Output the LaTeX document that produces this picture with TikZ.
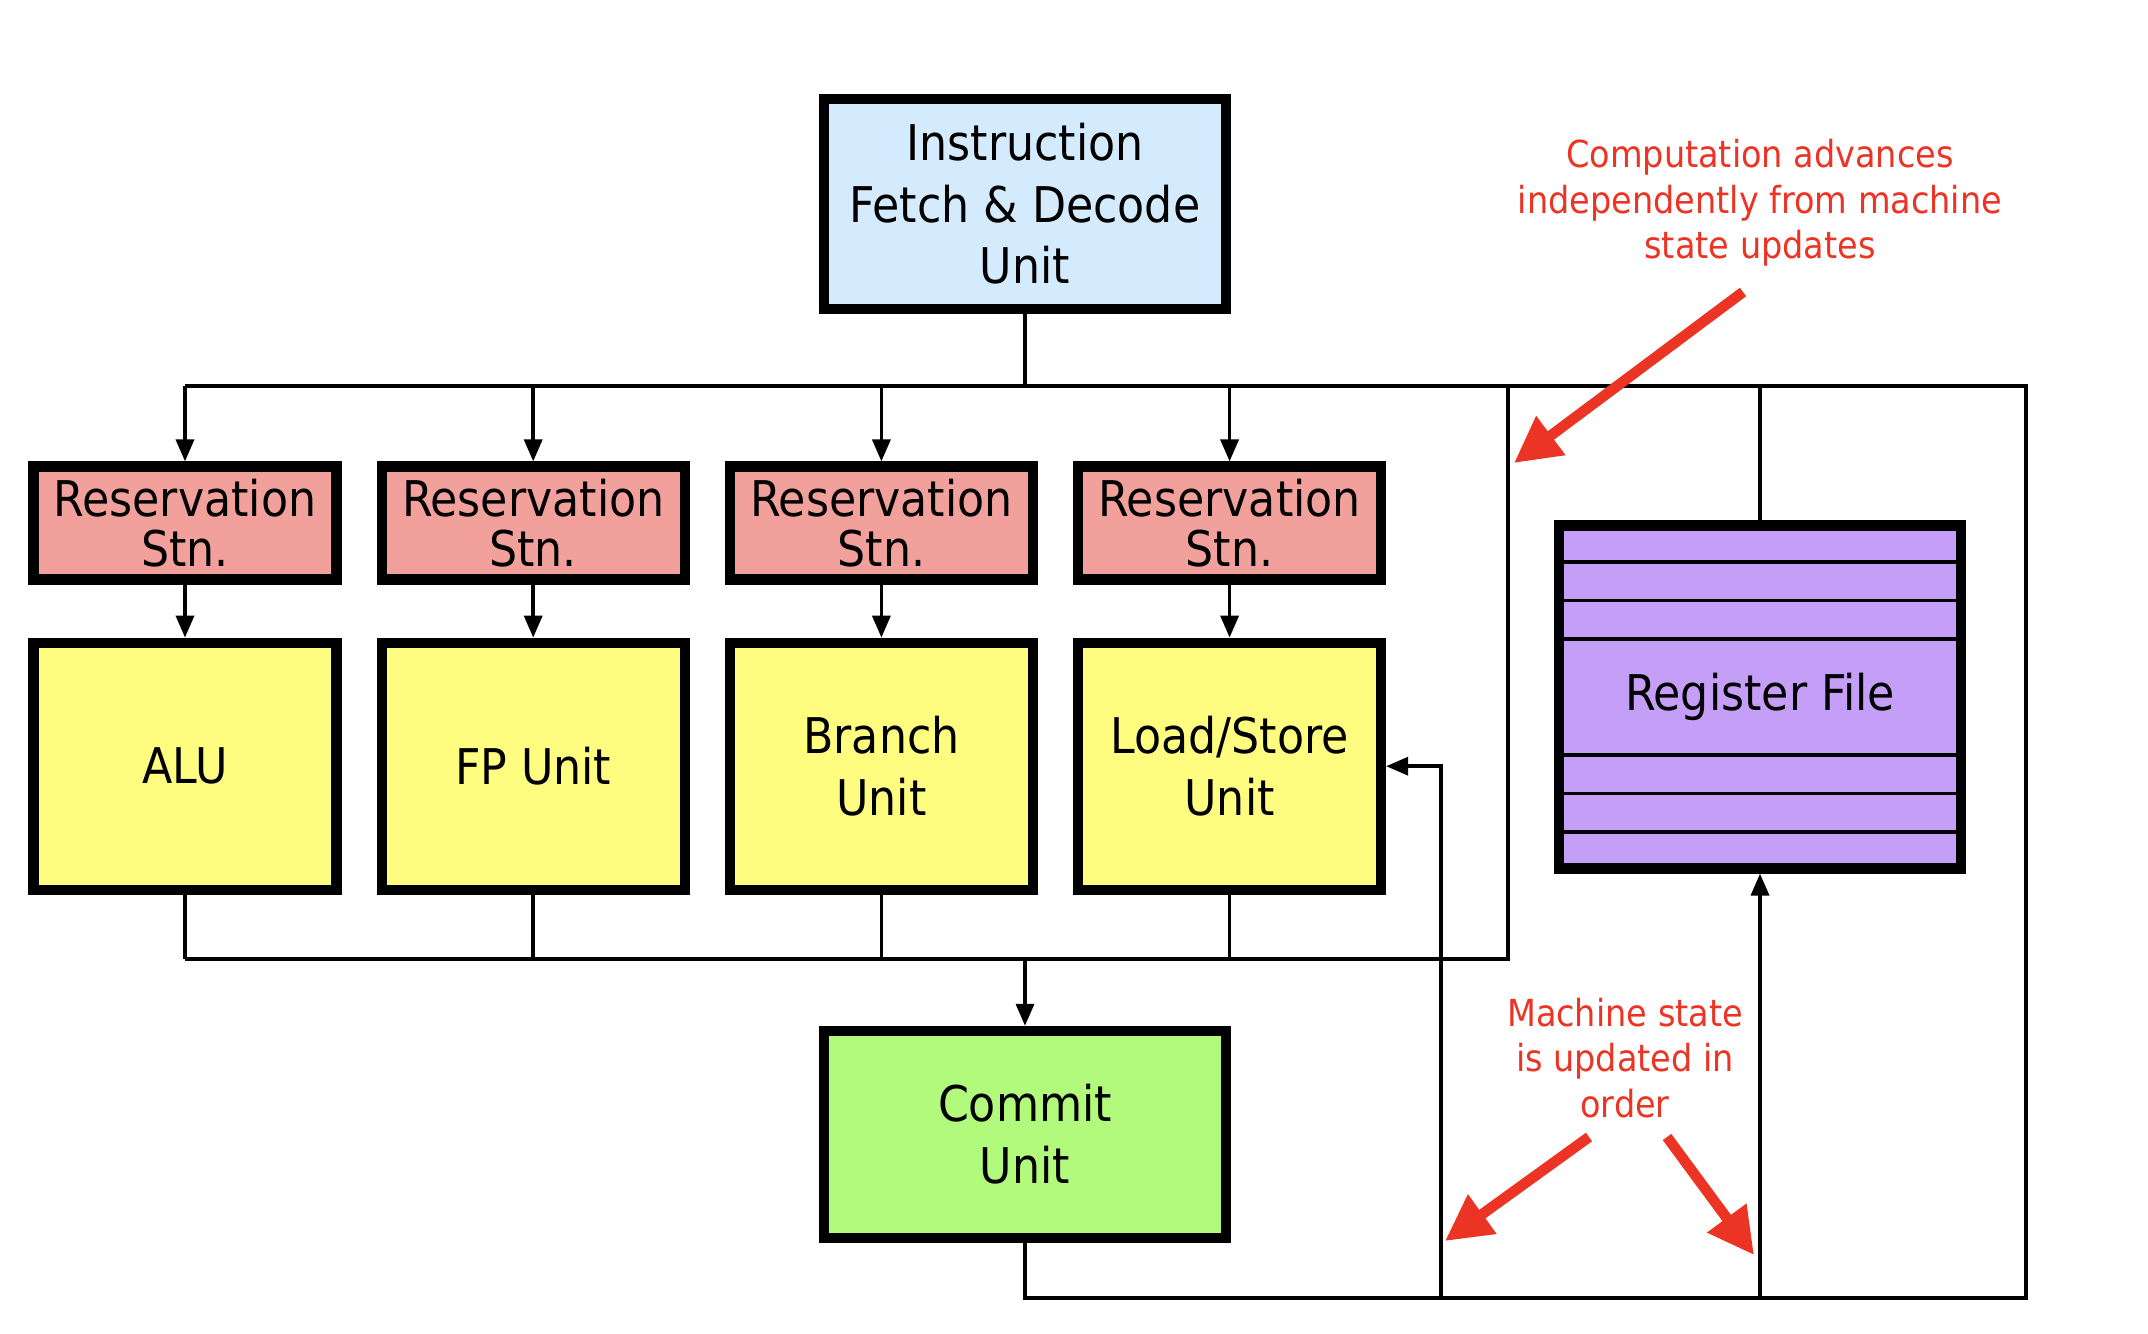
\documentclass[tikz,border=0pt]{standalone}
\usepackage{fontspec}
\setmainfont{DejaVu Sans Condensed}
\usetikzlibrary{positioning,calc,arrows.meta}

\definecolor{fetchblue}{RGB}{212,235,253}
\definecolor{rspink}{RGB}{242,160,156}
\definecolor{unityellow}{RGB}{255,253,128}
\definecolor{commitgreen}{RGB}{178,250,124}
\definecolor{regviolet}{RGB}{197,158,247}
\definecolor{notered}{RGB}{236,52,37}

\tikzset{
  box/.style={draw, line width=2.9pt, align=center, inner sep=0pt,
    font=\fontsize{14}{17.5}\selectfont},
  rsbox/.style={box, fill=rspink, minimum width=3.03cm, minimum height=1.13cm,
    font=\fontsize{14}{14.4}\selectfont},
  unitbox/.style={box, fill=unityellow, minimum width=3.03cm, minimum height=2.47cm},
  wire/.style={line width=1pt},
  feed/.style={wire, -{Triangle[length=2.2mm,width=1.8mm]}},
  note/.style={text=notered, align=center, font=\fontsize{10.6}{12.9}\selectfont},
  notearrow/.style={draw=notered, line width=3pt, -{Triangle[length=4.6mm,width=4.6mm]}},
}

\begin{document}
\begin{tikzpicture}
    \useasboundingbox (0,0) rectangle (21.48,-13.34);

    \node[box, fill=fetchblue, minimum width=4.02cm, minimum height=2.1cm] (fetch) at (10.25,-2.04) {Instruction\\Fetch \& Decode\\Unit};

    \node[rsbox] (rs1) at (1.85,-5.23) {Reservation\\Stn.};
    \node[rsbox, right=0.35cm of rs1] (rs2) {Reservation\\Stn.};
    \node[rsbox, right=0.35cm of rs2] (rs3) {Reservation\\Stn.};
    \node[rsbox, right=0.35cm of rs3] (rs4) {Reservation\\Stn.};

    \node[unitbox, below=0.53cm of rs1] (alu) {ALU};
    \node[unitbox, below=0.53cm of rs2] (fpu) {FP Unit};
    \node[unitbox, below=0.53cm of rs3] (bru) {Branch\\Unit};
    \node[unitbox, below=0.53cm of rs4] (lsu) {Load/Store\\Unit};

    \node[box, fill=regviolet, minimum width=4.02cm, minimum height=3.43cm] (rf) at (17.60,-6.97) {Register File};
    \foreach \dy in {1.35,0.966,0.582,-0.582,-0.966,-1.35}
        \draw[wire] ($(rf.west)+(0,\dy)$) -- ($(rf.east)+(0,\dy)$);

    % buses and turning points
    \coordinate (tbus) at ($(fetch.south)+(0,-0.72)$);
    \coordinate (bbus) at ($(alu.south)+(0,-0.64)$);
    \coordinate (split) at ($(lsu.east)+(1.22,0)$);
    \coordinate (back) at ($(lsu.east)+(0.55,0)$);
    \coordinate (redge) at ($(rf.east)+(0.6,0)$);

    \node[box, fill=commitgreen, minimum width=4.02cm, minimum height=2.07cm, anchor=north] (commit) at ($(fetch |- bbus)+(0,-0.67)$) {Commit\\Unit};
    \coordinate (cbus) at ($(commit.south)+(0,-0.55)$);

    \draw[wire] (fetch.south) -- (tbus);
    \draw[wire] (rs1 |- tbus) -- (redge |- tbus) -- (redge |- cbus) -- (commit |- cbus) -- (commit.south);
    \foreach \r/\u in {rs1/alu,rs2/fpu,rs3/bru,rs4/lsu}{
        \draw[feed] (\r |- tbus) -- (\r.north);
        \draw[feed] (\r.south) -- (\u.north);
        \draw[wire] (\u.south) -- (\u |- bbus);
    }
    \draw[wire] (alu |- bbus) -- (split |- bbus) -- (split |- tbus);
    \draw[feed] (commit |- bbus) -- (commit.north);
    \draw[wire] (rf.north) -- (rf |- tbus);
    \draw[feed] (rf |- cbus) -- (rf.south);
    \draw[feed] (back |- cbus) -- (back) -- (lsu.east);

    % annotations
    \node[note] (advnote) at (17.60,-2.03) {Computation advances\\independently from machine\\state updates};
    \node[note] (ordnote) at (16.25,-10.58) {Machine state\\is updated in\\order};

    \coordinate (t1) at (17.43,-2.92);
    \coordinate (h1) at (15.14,-4.63);
    \coordinate (t2) at (15.89,-11.37);
    \coordinate (h2) at (14.45,-12.41);
    \coordinate (t3) at (16.67,-11.37);
    \coordinate (h3) at (17.54,-12.55);
    \draw[notearrow] (t1) -- (h1);
    \draw[notearrow] (t2) -- (h2);
    \draw[notearrow] (t3) -- (h3);
\end{tikzpicture}
\end{document}
